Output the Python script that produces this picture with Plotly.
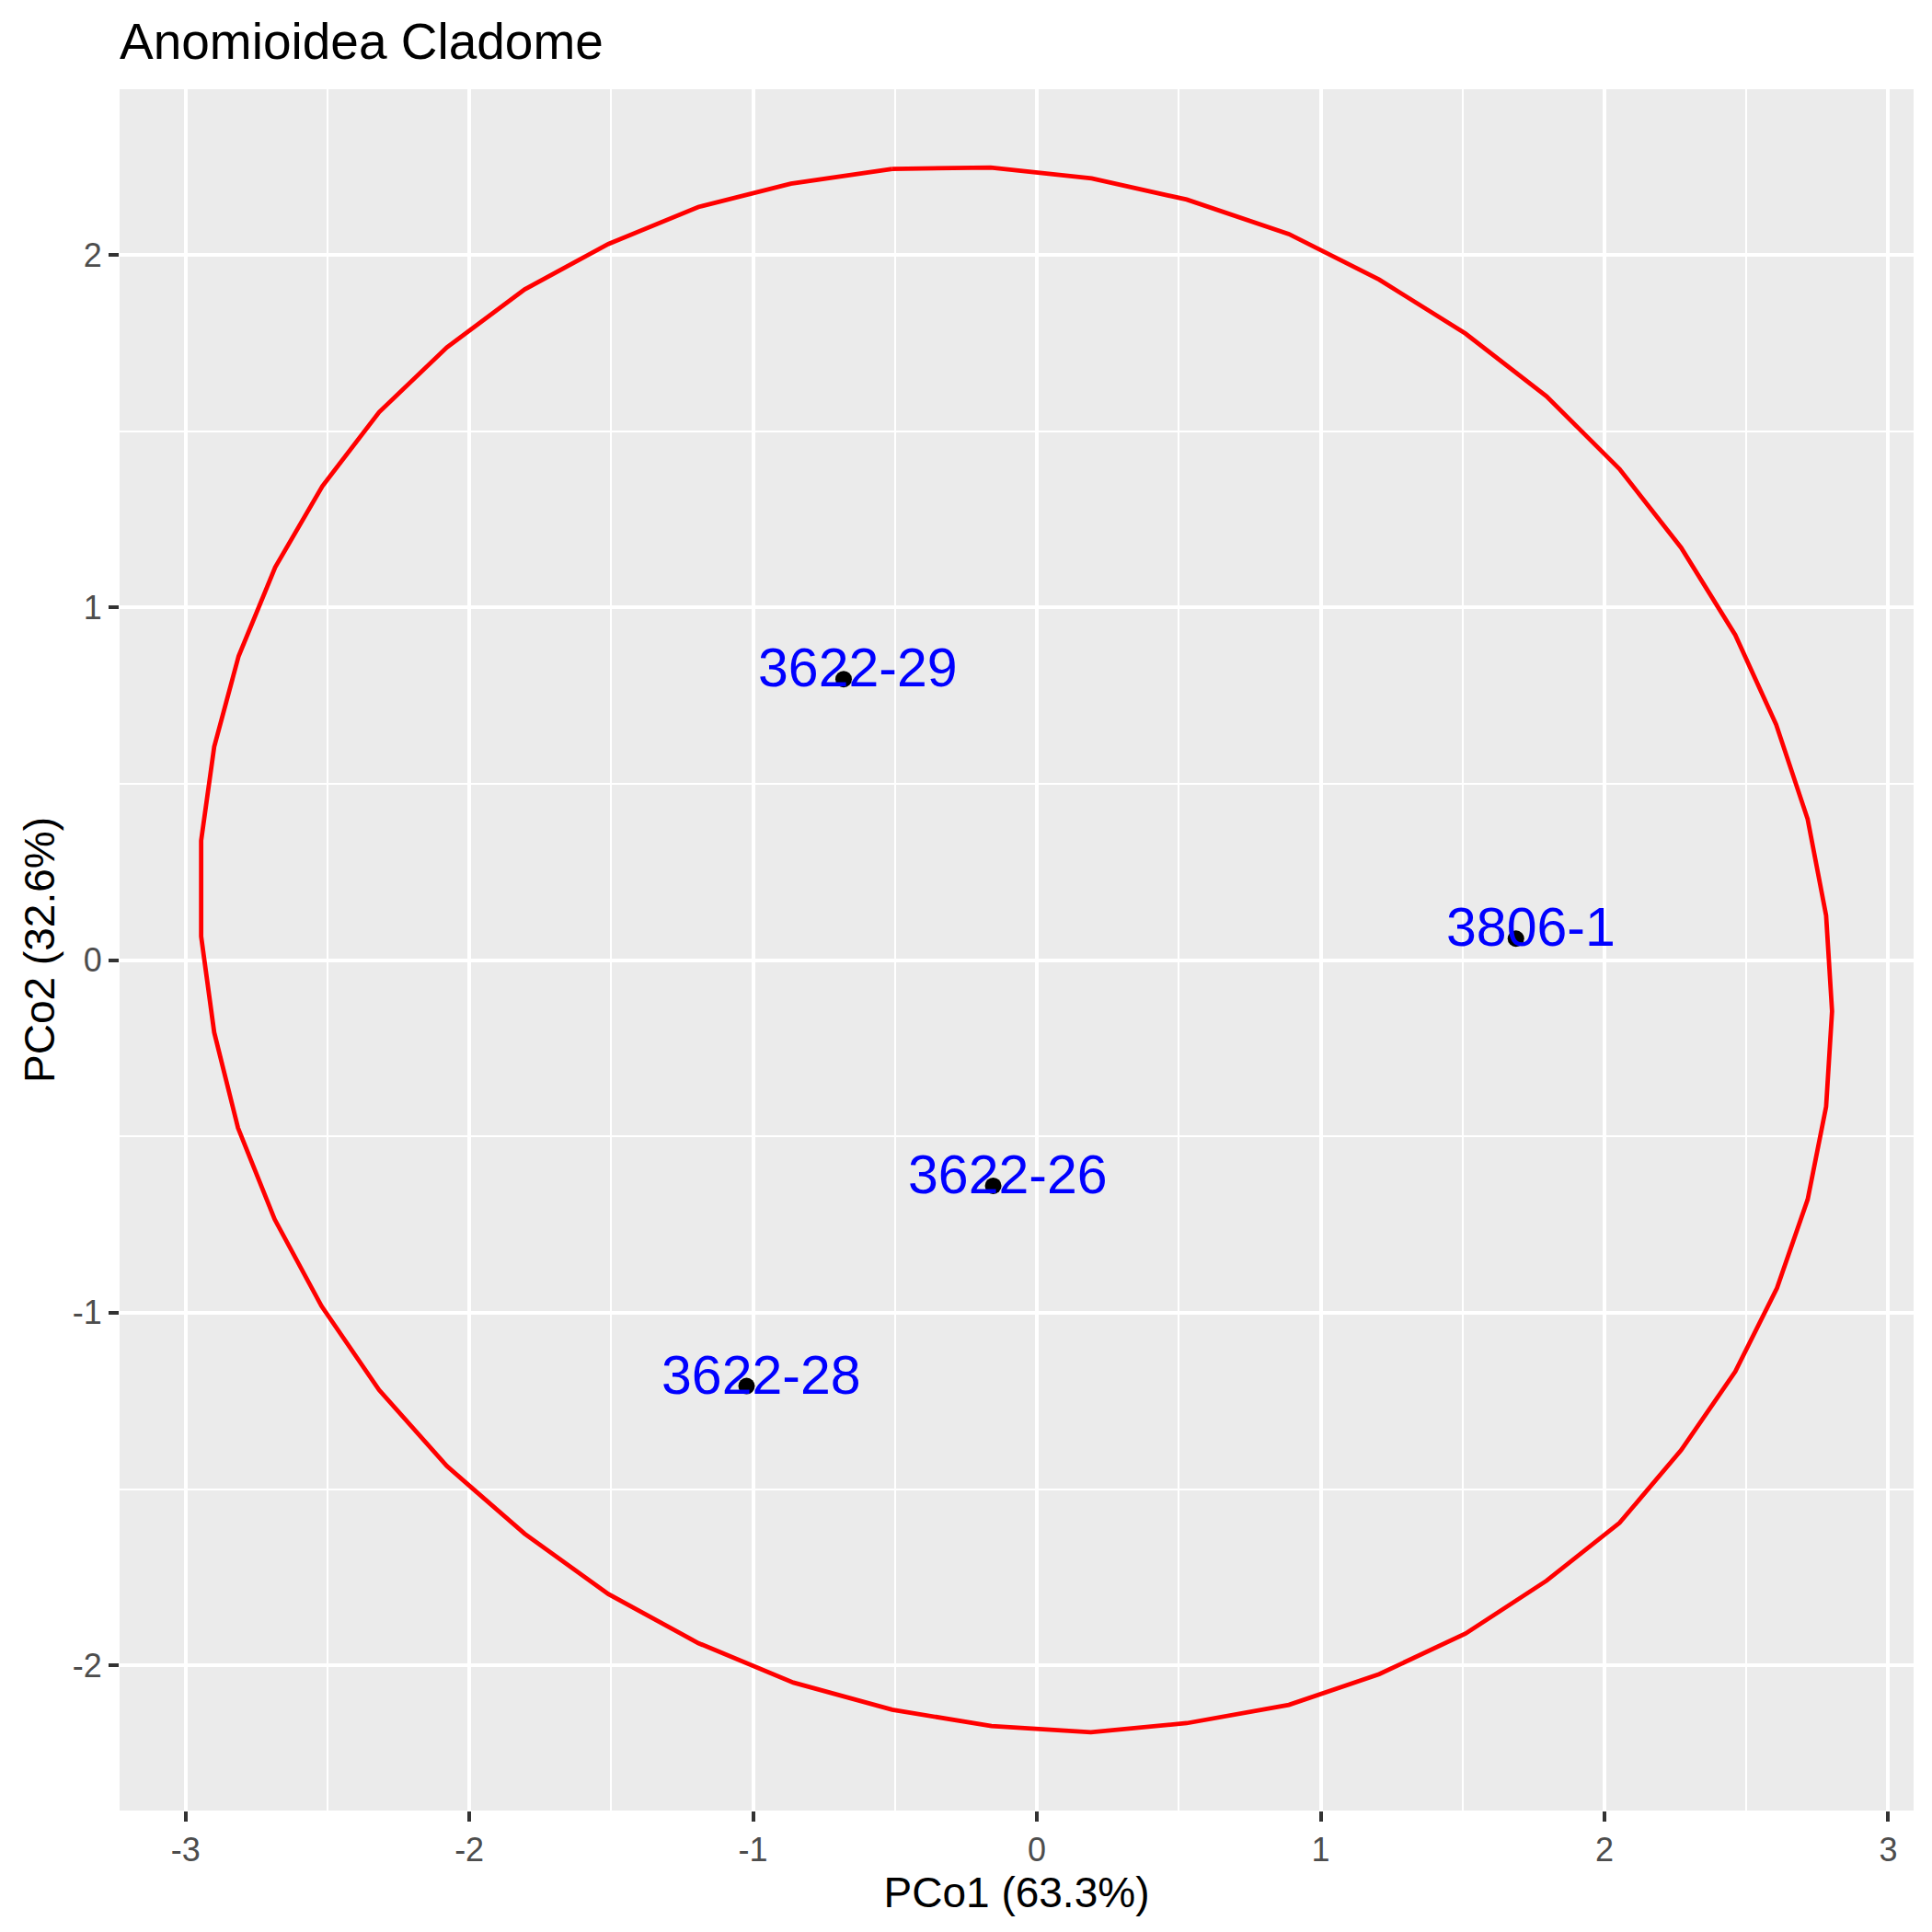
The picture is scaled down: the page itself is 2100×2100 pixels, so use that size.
import plotly.graph_objects as go

# ---- data ----
sample_labels = ["3622-29", "3806-1", "3622-26", "3622-28"]
pco1 = [-0.681, 1.688, -0.154, -1.023]
pco2 = [0.797, 0.061, -0.640, -1.208]

ellipse_x = [-0.510, -0.163, 0.193, 0.528, 0.888, 1.206, 1.510, 1.796, 2.053, 2.270,
             2.461, 2.605, 2.716, 2.781, 2.802, 2.781, 2.716, 2.608, 2.461, 2.270,
             2.053, 1.796, 1.510, 1.206, 0.888, 0.528, 0.190, -0.160, -0.510, -0.858,
             -1.193, -1.510, -1.805, -2.079, -2.318, -2.521, -2.686, -2.815, -2.899, -2.945,
             -2.945, -2.899, -2.813, -2.684, -2.518, -2.318, -2.079, -1.805, -1.510, -1.193,
             -0.867, -0.510]
ellipse_y = [2.244, 2.248, 2.217, 2.157, 2.059, 1.930, 1.777, 1.599, 1.393, 1.170,
             0.922, 0.668, 0.400, 0.127, -0.145, -0.416, -0.679, -0.930, -1.167, -1.390,
             -1.596, -1.760, -1.910, -2.025, -2.112, -2.164, -2.190, -2.172, -2.126, -2.049,
             -1.937, -1.798, -1.627, -1.435, -1.219, -0.981, -0.735, -0.476, -0.205, 0.067,
             0.339, 0.605, 0.862, 1.114, 1.344, 1.554, 1.738, 1.902, 2.031, 2.136,
             2.202, 2.244]

x_ticks = [-3, -2, -1, 0, 1, 2, 3]
y_ticks = [-2, -1, 0, 1, 2]
title_text = "Anomioidea Cladome"
x_title = "PCo1 (63.3%)"
y_title = "PCo2 (32.6%)"

# ---- scales (ggplot-like 5% expansion) ----
allx = ellipse_x + pco1
ally = ellipse_y + pco2
px = (max(allx) - min(allx)) * 0.05
py = (max(ally) - min(ally)) * 0.05
xr = [min(allx) - px, max(allx) + px]
yr = [min(ally) - py, max(ally) + py]

FONT = "Liberation Sans, Arial, Helvetica, sans-serif"
W = 2084
H = 2084

fig = go.Figure()
fig.add_trace(go.Scatter(x=ellipse_x, y=ellipse_y, mode="lines",
                         line=dict(color="#FF0000", width=4.8),
                         hoverinfo="skip", showlegend=False))
fig.add_trace(go.Scatter(x=pco1, y=pco2, mode="markers",
                         marker=dict(color="black", size=18, line=dict(width=0)),
                         showlegend=False))

for lab, xv, yv in zip(sample_labels, pco1, pco2):
    fig.add_annotation(x=xv, y=yv, text=lab, showarrow=False,
                       xanchor="center", yanchor="middle", xshift=16, yshift=12,
                       font=dict(family=FONT, size=59, color="#0000FF"))

axis_common = dict(
    showline=False, zeroline=False, automargin=False,
    showgrid=True, gridcolor="#FFFFFF", gridwidth=4.4,
    ticks="outside", ticklen=11, tickwidth=4.4, tickcolor="#333333",
    tickfont=dict(family=FONT, size=36, color="#4D4D4D"),
    tick0=0, dtick=1,
    minor=dict(showgrid=True, gridcolor="#FFFFFF", gridwidth=2.2, dtick=0.5, tick0=0.5, ticks=""),
)

fig.update_layout(
    width=W, height=H,
    margin=dict(l=122, r=12, t=89, b=124, pad=0),
    paper_bgcolor="#FFFFFF", plot_bgcolor="#EBEBEB",
    font=dict(family=FONT, color="#000000"),
    title=dict(text=title_text, x=122/W, xanchor="left", xref="container",
               y=1 - 37/H, yanchor="middle", yref="container",
               font=dict(family=FONT, size=55, color="#000000")),
    xaxis=dict(axis_common, range=xr, tickvals=x_ticks,
               ticktext=[str(v) for v in x_ticks],
               title=dict(text=x_title, font=dict(family=FONT, size=46, color="#000000"), standoff=0)),
    yaxis=dict(axis_common, range=yr, tickvals=y_ticks,
               ticktext=[str(v) for v in y_ticks],
               title=dict(text=y_title, font=dict(family=FONT, size=46, color="#000000"), standoff=4)),
    showlegend=False,
)

fig.write_html("out.html")
